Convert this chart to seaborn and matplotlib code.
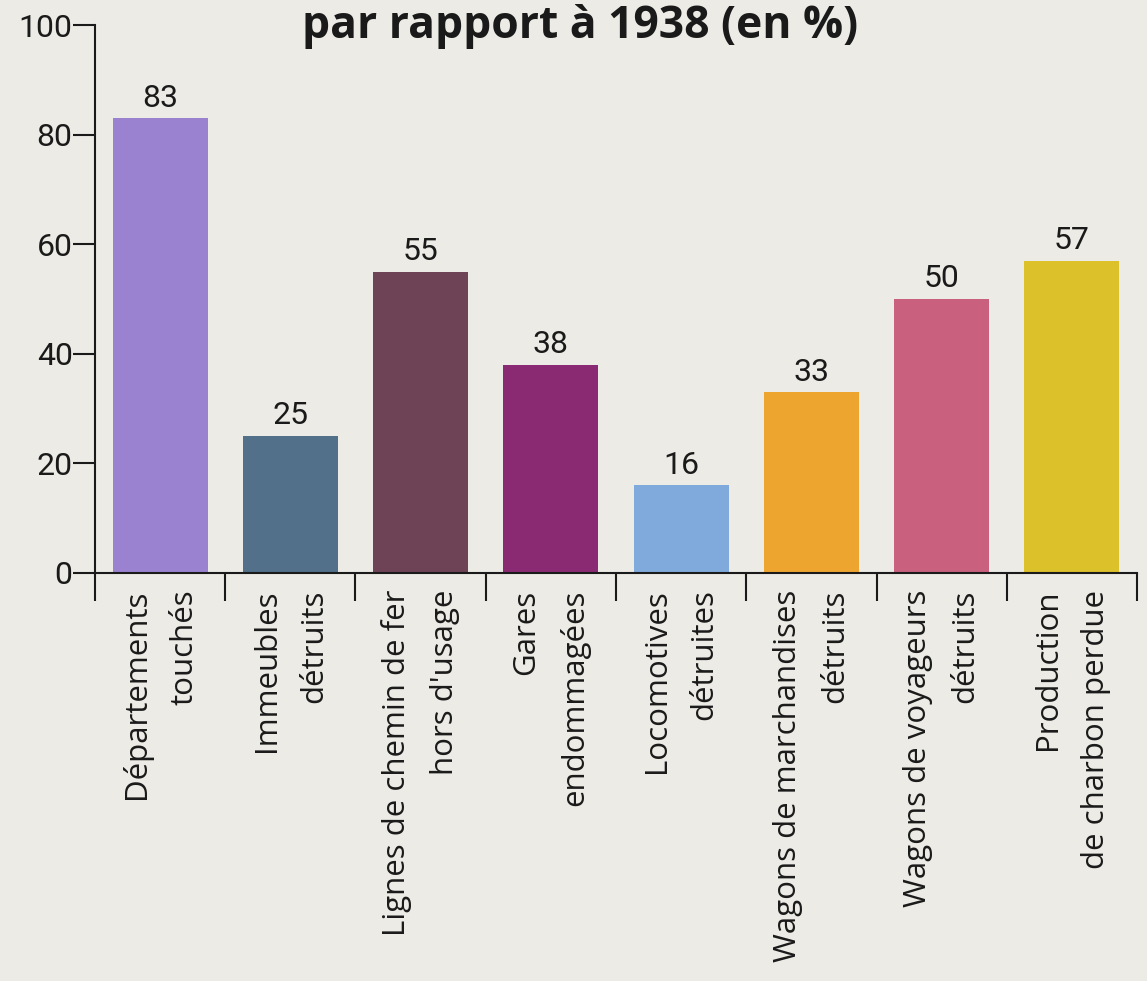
import matplotlib
matplotlib.use("Agg")
import matplotlib.pyplot as plt
import seaborn as sns
import pandas as pd

# data
categories = [
    "Départements\ntouchés",
    "Immeubles\ndétruits",
    "Lignes de chemin de fer\nhors d'usage",
    "Gares\nendommagées",
    "Locomotives\ndétruites",
    "Wagons de marchandises\ndétruits",
    "Wagons de voyageurs\ndétruits",
    "Production\nde charbon perdue",
]
values = [83, 25, 55, 38, 16, 33, 50, 57]
bar_colors = ["#9b82d0", "#52708a", "#6e4356", "#8a2a72",
              "#80aadc", "#eea52f", "#c9607e", "#dcc12b"]
y_ticks = [0, 20, 40, 60, 80, 100]
title = "par rapport à 1938 (en %)"

paper = "#ecebe5"
ink = "#1a1a1a"
narrow = ["Roboto", "DejaVu Sans"]
round_font = ["Open Sans", "Lato", "DejaVu Sans"]

sns.set_style("white")
plt.rcParams["font.family"] = ["Roboto", "DejaVu Sans"]

df = pd.DataFrame({"cat": categories, "val": values})

fig = plt.figure(figsize=(11.47, 9.81), dpi=100, facecolor=paper)
ax = fig.add_axes([0.0828, 0.416, 0.9085, 0.5585])
ax.set_facecolor(paper)

sns.barplot(data=df, x="cat", y="val", hue="cat", palette=bar_colors,
            legend=False, width=0.73, saturation=1, linewidth=0, ax=ax)

# value labels above bars
for i, v in enumerate(values):
    ax.annotate(str(v), (i, v), xytext=(0, 4), textcoords="offset points",
                ha="center", va="bottom", fontsize=23, family=narrow, color=ink)

ax.set_ylim(0, 100)
ax.set_xlim(-0.5, len(categories) - 0.5)
ax.set_yticks(y_ticks)
ax.set_yticklabels([str(t) for t in y_ticks], family=narrow, fontsize=23, color=ink)
ax.tick_params(axis="y", left=True, direction="out", length=16, width=1.5,
               color=ink, pad=0)

# category labels at bar centers, tick marks at boundaries
ax.set_xticks(range(len(categories)))
ax.set_xticklabels(categories, rotation=90, ha="center", va="top",
                   multialignment="right", family=round_font, fontsize=22.5,
                   color=ink, linespacing=1.75)
ax.tick_params(axis="x", which="major", bottom=False, length=0, pad=12)
ax.set_xticks([i - 0.5 for i in range(len(categories) + 1)], minor=True)
ax.tick_params(axis="x", which="minor", bottom=True, direction="out", length=20,
               width=1.5, color=ink)

ax.set_xlabel("")
ax.set_ylabel("")
sns.despine(ax=ax)
for s in ["left", "bottom"]:
    ax.spines[s].set_linewidth(1.5)
    ax.spines[s].set_color(ink)

fig.text(0.506, 0.961, title, ha="center", va="baseline", fontsize=32,
         fontweight="bold", family=round_font, color=ink)

fig.savefig("out.png", dpi=100, facecolor=paper)
